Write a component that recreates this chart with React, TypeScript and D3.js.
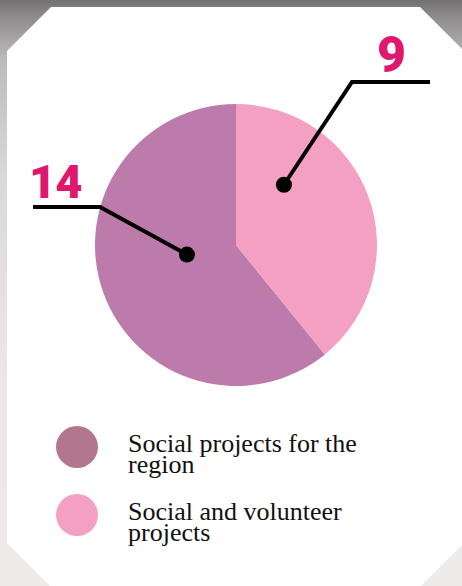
import React from "react";
import * as d3 from "d3";

const categories = ["Social projects for the region", "Social and volunteer projects"];
const values = [14, 9];
const legendLines = [
  ["Social projects for the", "region"],
  ["Social and volunteer", "projects"],
];
const sliceColors = ["#BD7BAC", "#F4A0C2"];
const legendColors = ["#B2768F", "#F4A0C2"];

const W = 462;
const H = 586;
const cx = 236;
const cy = 245;
const R = 141;

// annotation layout: dot (polar from pie centre), elbow, end, label anchor
const annotations = [
  { dotAngle: 259, dotR: 50, elbow: [100, 207], end: [33, 207], label: [29, 198], anchor: "start", size: 47 },
  { dotAngle: 38.5, dotR: 77, elbow: [352, 82], end: [430, 82], label: [391, 72], anchor: "middle", size: 50 },
];

export default function App() {
  const total = d3.sum(values);
  const start = (values[1] / total) * 2 * Math.PI;
  const pie = d3
    .pie<number>()
    .sort(null)
    .startAngle(start)
    .endAngle(start + 2 * Math.PI);
  const arcs = pie(values);
  const arc = d3.arc<d3.PieArcDatum<number>>().innerRadius(0).outerRadius(R);

  const polar = (deg: number, r: number) => {
    const a = (deg * Math.PI) / 180;
    return [cx + r * Math.sin(a), cy - r * Math.cos(a)];
  };

  const octagon = [
    [51, 7], [420, 7], [470, 57], [470, 537], [417, 590], [54, 590], [7, 543], [7, 51],
  ];

  return (
    <svg
      width={W}
      height={H}
      viewBox={`0 0 ${W} ${H}`}
      style={{ position: "absolute", left: 0, top: 0, display: "block" }}
    >
      <defs>
        <linearGradient id="bg" x1="0" y1="0" x2="0" y2="1">
          <stop offset="0" stopColor="#737171" />
          <stop offset="0.03" stopColor="#8e8c8c" />
          <stop offset="0.1" stopColor="#bcbaba" />
          <stop offset="0.3" stopColor="#dbd8d8" />
          <stop offset="0.6" stopColor="#eae6e6" />
          <stop offset="1" stopColor="#efebeb" />
        </linearGradient>
      </defs>
      <rect x={0} y={0} width={W} height={H} fill="url(#bg)" />
      <polygon points={octagon.map((p) => p.join(",")).join(" ")} fill="#ffffff" />

      <g transform={`translate(${cx},${cy})`}>
        {arcs.map((a, i) => (
          <path key={categories[i]} d={arc(a) || ""} fill={sliceColors[i]} />
        ))}
      </g>

      {annotations.map((an, i) => {
        const [dx, dy] = polar(an.dotAngle, an.dotR);
        return (
          <g key={"ann" + i}>
            <polyline
              points={`${dx},${dy} ${an.elbow[0]},${an.elbow[1]} ${an.end[0]},${an.end[1]}`}
              fill="none"
              stroke="#000"
              strokeWidth={4}
              strokeLinejoin="miter"
            />
            <circle cx={dx} cy={dy} r={8} fill="#000" />
            <text
              x={an.label[0]}
              y={an.label[1]}
              textAnchor={an.anchor as any}
              fill="#E0186D"
              fontFamily="Roboto, 'Open Sans', sans-serif"
              fontWeight={900}
              fontSize={an.size}
              letterSpacing={-1}
            >
              {values[i]}
            </text>
          </g>
        );
      })}

      {legendLines.map((lines, i) => {
        const y0 = 447 + i * 68;
        return (
          <g key={"leg" + i}>
            <circle cx={77} cy={y0} r={21} fill={legendColors[i]} />
            {lines.map((ln, j) => (
              <text
                key={j}
                x={128}
                y={y0 + 5 + j * 21}
                fill="#111"
                fontFamily="'Liberation Serif', 'DejaVu Serif', serif"
                fontSize={26}
              >
                {ln}
              </text>
            ))}
          </g>
        );
      })}
    </svg>
  );
}
